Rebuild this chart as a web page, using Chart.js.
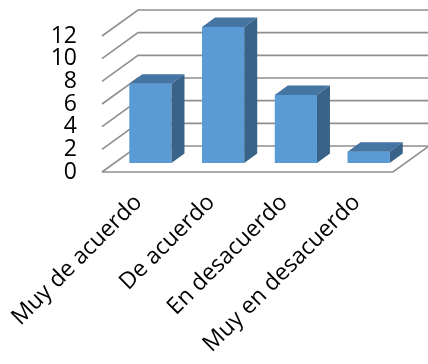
<!DOCTYPE html>
<html>
<head>
<meta charset="utf-8">
<script src="https://cdn.jsdelivr.net/npm/chart.js@4.4.0/dist/chart.umd.min.js"></script>
<style>
    html, body { margin: 0; padding: 0; background: #fff; }
    #wrap { width: 428px; height: 364px; }
</style>
</head>
<body>
<div id="wrap"><canvas id="grafico"></canvas></div>
<script>
const categorias = ["Muy de acuerdo", "De acuerdo", "En desacuerdo", "Muy en desacuerdo"];
const respuestas = [7, 12, 6, 1];
const marcasEje = [0, 2, 4, 6, 8, 10, 12];

// depth of the box (front plane -> back wall) and of each bar
const fondo = { x: 36, y: -26 };
const planoBarras = { x: 12, y: -9 };
const prof = { x: 13, y: -9.5 };

const colorFrente = "#5b9bd5";
const colorTapa = "#4575a3";
const colorLado = "#3a6389";
const colorRejilla = "#8f8f8f";

const caja3d = {
    id: "caja3d",
    beforeDatasetsDraw(chart) {
        const ctx = chart.ctx;
        const a = chart.chartArea;
        const y = chart.scales.y;
        ctx.save();
        ctx.strokeStyle = colorRejilla;
        ctx.lineWidth = 1.6;
        // side wall diagonals + back wall lines
        marcasEje.forEach(function (v) {
            const py = y.getPixelForValue(v);
            ctx.beginPath();
            ctx.moveTo(a.left, py);
            ctx.lineTo(a.left + fondo.x, py + fondo.y);
            ctx.lineTo(a.right + fondo.x, py + fondo.y);
            ctx.stroke();
        });
        // floor front and right edges
        const p0 = y.getPixelForValue(0);
        ctx.beginPath();
        ctx.moveTo(a.left, p0);
        ctx.lineTo(a.right, p0);
        ctx.lineTo(a.right + fondo.x, p0 + fondo.y);
        ctx.stroke();
        ctx.restore();

        // bars sit a bit behind the front plane
        ctx.save();
        ctx.translate(planoBarras.x, planoBarras.y);
    },
    afterDatasetsDraw(chart) {
        const ctx = chart.ctx;
        ctx.restore();
        const meta = chart.getDatasetMeta(0);
        ctx.save();
        meta.data.forEach(function (bar) {
            const p = bar.getProps(["x", "y", "base", "width"], true);
            const l = p.x - p.width / 2 + planoBarras.x;
            const r = p.x + p.width / 2 + planoBarras.x;
            const t = p.y + planoBarras.y;
            const b = p.base + planoBarras.y;
            // top
            ctx.fillStyle = colorTapa;
            ctx.beginPath();
            ctx.moveTo(l, t);
            ctx.lineTo(l + prof.x, t + prof.y);
            ctx.lineTo(r + prof.x, t + prof.y);
            ctx.lineTo(r, t);
            ctx.closePath();
            ctx.fill();
            // right side
            ctx.fillStyle = colorLado;
            ctx.beginPath();
            ctx.moveTo(r, t);
            ctx.lineTo(r + prof.x, t + prof.y);
            ctx.lineTo(r + prof.x, b + prof.y);
            ctx.lineTo(r, b);
            ctx.closePath();
            ctx.fill();
        });
        ctx.restore();
    }
};

new Chart(document.getElementById("grafico"), {
    type: "bar",
    data: {
        labels: categorias,
        datasets: [{
            data: respuestas,
            backgroundColor: colorFrente,
            borderWidth: 0,
            barPercentage: 0.58,
            categoryPercentage: 1
        }]
    },
    options: {
        responsive: true,
        maintainAspectRatio: false,
        animation: false,
        layout: { padding: { top: 36, right: 35, left: 0, bottom: 0 } },
        plugins: {
            legend: { display: false },
            tooltip: { enabled: false }
        },
        scales: {
            x: {
                grid: { display: false, drawTicks: false },
                border: { display: false },
                ticks: {
                    autoSkip: false,
                    minRotation: 45,
                    maxRotation: 45,
                    padding: 17,
                    color: "#000",
                    font: { family: "Open Sans", size: 23 }
                },
                afterFit: function (s) {
                    s.height = 192;
                    s.paddingLeft = 0;
                    s.paddingRight = 0;
                }
            },
            y: {
                min: 0,
                max: 12,
                grid: { display: false, drawTicks: false },
                border: { display: false },
                ticks: {
                    stepSize: 2,
                    autoSkip: false,
                    padding: 25,
                    color: "#000",
                    font: { family: "Open Sans", size: 23 }
                },
                afterFit: function (s) {
                    s.width = 102;
                    s.paddingTop = 0;
                    s.paddingBottom = 0;
                }
            }
        }
    },
    plugins: [caja3d]
});
</script>
</body>
</html>
